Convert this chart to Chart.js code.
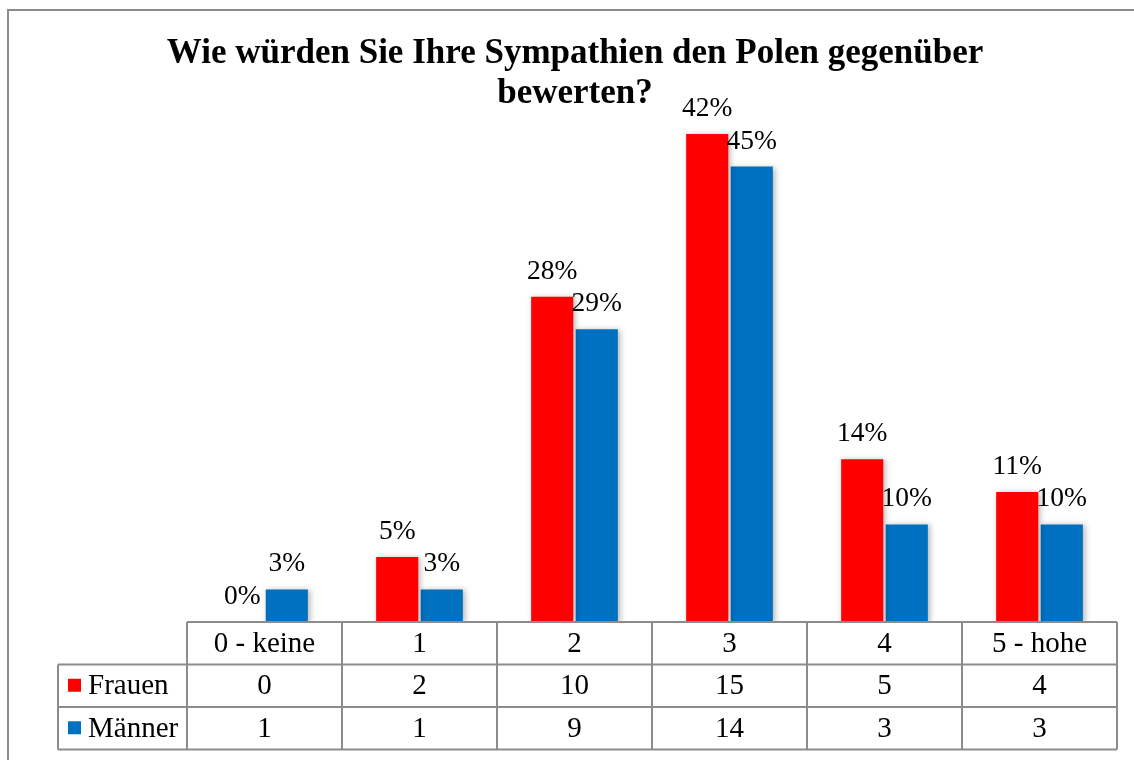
<!DOCTYPE html>
<html lang="de">
<head>
    <meta charset="UTF-8">
    <title>Sympathien den Polen gegenüber</title>
    <script src="https://cdn.jsdelivr.net/npm/chart.js@4.4.1/dist/chart.umd.min.js"></script>
    <style>
        html, body { margin: 0; padding: 0; background: #fff; }
        #chartBox { width: 1134px; height: 760px; }
    </style>
</head>
<body>
    <div id="chartBox">
        <canvas id="sympathyChart" width="1134" height="760"></canvas>
    </div>

    <script>
        // Data
        const categories = ['0 - keine', '1', '2', '3', '4', '5 - hohe'];
        const seriesNames = ['Frauen', 'Männer'];
        const frauenCounts = [0, 2, 10, 15, 5, 4];
        const maennerCounts = [1, 1, 9, 14, 3, 3];
        const frauenLabels = ['0%', '5%', '28%', '42%', '14%', '11%'];
        const maennerLabels = ['3%', '3%', '29%', '45%', '10%', '10%'];
        const titleLines = ['Wie würden Sie Ihre Sympathien den Polen gegenüber', 'bewerten?'];

        const RED = '#ff0000';
        const BLUE = '#0070c0';
        const GRID = '#8c8c8c';
        const SERIF = '"Liberation Serif", "Times New Roman", serif';

        const pctLabels = [frauenLabels, maennerLabels];
        const counts = [frauenCounts, maennerCounts];
        const colors = [RED, BLUE];

        // white background + bar shadows
        const shadowPlugin = {
            id: 'shadowPlugin',
            beforeDraw(chart) {
                const ctx = chart.ctx;
                ctx.save();
                ctx.fillStyle = '#fff';
                ctx.fillRect(0, 0, chart.width, chart.height);
                ctx.restore();
            },
            beforeDatasetsDraw(chart) {
                const ctx = chart.ctx;
                ctx.save();
                ctx.shadowColor = 'rgba(0, 0, 0, 0.3)';
                ctx.shadowBlur = 6;
                ctx.shadowOffsetX = 2;
                ctx.shadowOffsetY = 1;
            },
            afterDatasetsDraw(chart) {
                chart.ctx.restore();
            }
        };

        // title, value labels, data table, frame
        const decorPlugin = {
            id: 'decorPlugin',
            afterDraw(chart) {
                const ctx = chart.ctx;
                const area = chart.chartArea;
                ctx.save();

                // outer frame (runs off the right and bottom edge)
                ctx.strokeStyle = GRID;
                ctx.lineWidth = 2;
                ctx.strokeRect(8, 10, 1150, 780);

                // title
                ctx.fillStyle = '#000';
                ctx.textAlign = 'center';
                ctx.textBaseline = 'alphabetic';
                ctx.font = 'bold 35px ' + SERIF;
                ctx.fillText(titleLines[0], 575, 63);
                ctx.fillText(titleLines[1], 575, 103);

                // value labels above bars
                ctx.font = '27.5px ' + SERIF;
                chart.data.datasets.forEach((ds, d) => {
                    chart.getDatasetMeta(d).data.forEach((bar, i) => {
                        ctx.fillText(pctLabels[d][i], bar.x, bar.y - 18);
                    });
                });

                // data table
                const colW = (area.right - area.left) / categories.length;
                const rowH = 42.5;
                const top = area.bottom;
                const labelLeft = 58;
                ctx.strokeStyle = GRID;
                ctx.lineWidth = 2;
                ctx.beginPath();
                ctx.moveTo(area.left, top);
                ctx.lineTo(area.right, top);
                for (let r = 1; r <= 3; r++) {
                    ctx.moveTo(labelLeft, top + r * rowH);
                    ctx.lineTo(area.right, top + r * rowH);
                }
                for (let c = 0; c <= categories.length; c++) {
                    ctx.moveTo(area.left + c * colW, top);
                    ctx.lineTo(area.left + c * colW, top + 3 * rowH);
                }
                ctx.moveTo(labelLeft, top + rowH);
                ctx.lineTo(labelLeft, top + 3 * rowH);
                ctx.stroke();

                ctx.fillStyle = '#000';
                ctx.font = '29px ' + SERIF;
                ctx.textBaseline = 'middle';
                ctx.textAlign = 'center';
                categories.forEach((cat, i) => {
                    const cx = area.left + (i + 0.5) * colW;
                    ctx.fillText(cat, cx, top + rowH * 0.5 + 1);
                    ctx.fillText(String(frauenCounts[i]), cx, top + rowH * 1.5 + 1);
                    ctx.fillText(String(maennerCounts[i]), cx, top + rowH * 2.5 + 1);
                });

                // series keys in the row headers
                seriesNames.forEach((name, s) => {
                    const cy = top + rowH * (1.5 + s);
                    ctx.fillStyle = colors[s];
                    ctx.fillRect(68, cy - 7, 13, 13);
                    ctx.fillStyle = '#000';
                    ctx.textAlign = 'left';
                    ctx.fillText(name, 88, cy + 1);
                });

                ctx.restore();
            }
        };

        new Chart(document.getElementById('sympathyChart'), {
            type: 'bar',
            data: {
                labels: categories,
                datasets: seriesNames.map((name, s) => ({
                    label: name,
                    data: counts[s],
                    backgroundColor: colors[s],
                    borderWidth: 0,
                    categoryPercentage: 0.575,
                    barPercentage: 0.945
                }))
            },
            options: {
                responsive: false,
                animation: false,
                devicePixelRatio: 1,
                layout: {
                    padding: { left: 187, right: 17, top: 101.5, bottom: 138 }
                },
                scales: {
                    x: { display: false },
                    y: { display: false, min: 0, max: 16 }
                },
                plugins: {
                    legend: { display: false },
                    title: { display: false },
                    tooltip: { enabled: false }
                }
            },
            plugins: [shadowPlugin, decorPlugin]
        });
    </script>
</body>
</html>
